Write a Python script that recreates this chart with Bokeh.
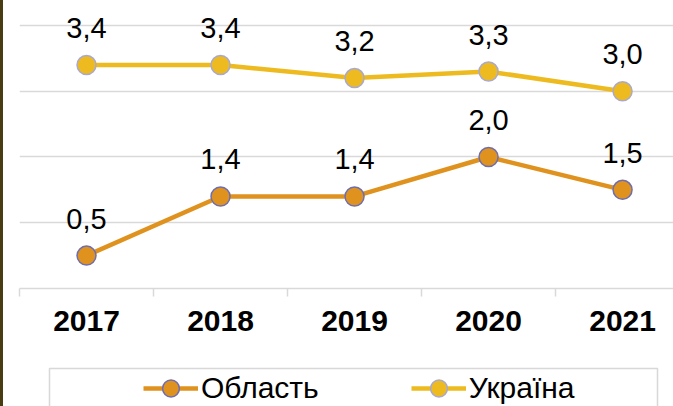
from bokeh.plotting import figure
from bokeh.models import FixedTicker, Legend, LegendItem, BoxAnnotation, Range1d, Div
from bokeh.layouts import row, column
from bokeh.embed import file_html
from bokeh.resources import INLINE
from bokeh.core.properties import value

years = ["2017", "2018", "2019", "2020", "2021"]
oblast = [0.5, 1.4, 1.4, 2.0, 1.5]
ukraina = [3.4, 3.4, 3.2, 3.3, 3.0]
grid_vals = [1, 2, 3, 4]
series_names = ["Область", "Україна"]

xs = list(range(len(years)))
dividers = [i - 0.5 for i in range(len(years) + 1)]


def fmt(v):
    return f"{v:.1f}".replace(".", ",")


FONT = "Liberation Sans"
OBL_COL = "#E0921F"
OBL_EDGE = "#6E6EAE"
UKR_COL = "#EDBB1F"
UKR_EDGE = "#A9A9CF"
LW = 4.5
MS = 19
BAR_W = 3
W = 673 - BAR_W

H1 = 345
p = figure(width=W, height=H1, output_backend="svg", toolbar_location=None,
           x_range=Range1d(-0.5, 4.38), y_range=Range1d(0, 4.38),
           y_axis_location=None,
           min_border_left=19 - BAR_W, min_border_right=0, min_border_top=0,
           min_border_bottom=H1 - 288)
p.outline_line_color = None
p.xgrid.visible = False
p.ygrid.ticker = FixedTicker(ticks=grid_vals)
p.ygrid.grid_line_color = "#d9d9d9"
p.ygrid.grid_line_width = 1.5

ax = p.xaxis[0]
ax.ticker = FixedTicker(ticks=xs, minor_ticks=dividers)
ax.major_label_overrides = {i: y for i, y in zip(xs, years)}
ax.axis_line_color = "#d9d9d9"
ax.axis_line_width = 1.5
ax.major_tick_in = 0
ax.major_tick_out = 0
ax.minor_tick_in = 0
ax.minor_tick_out = 8
ax.minor_tick_line_color = "#d9d9d9"
ax.minor_tick_line_width = 1.5
ax.major_label_standoff = 14
ax.major_label_text_font = FONT
ax.major_label_text_font_size = "30px"
ax.major_label_text_font_style = "bold"
ax.major_label_text_color = "black"

p.line(xs, oblast, line_color=OBL_COL, line_width=LW)
p.scatter(xs, oblast, size=MS, fill_color=OBL_COL, line_color=OBL_EDGE, line_width=1.5)
p.line(xs, ukraina, line_color=UKR_COL, line_width=LW)
p.scatter(xs, ukraina, size=MS, fill_color=UKR_COL, line_color=UKR_EDGE, line_width=1.5)

for vals in (oblast, ukraina):
    p.text(xs, vals, text=[fmt(v) for v in vals], text_align="center",
           text_baseline="alphabetic", y_offset=-37, text_font=value(FONT),
           text_font_size="29px", text_color="black")

# legend strip (its series sit outside its visible range; only the legend shows)
H2 = 406 - H1
p2 = figure(width=W, height=H2, output_backend="svg", toolbar_location=None,
            x_range=Range1d(100, 101), y_range=Range1d(100, 101),
            x_axis_location=None, y_axis_location=None,
            min_border_left=0, min_border_right=0, min_border_top=0, min_border_bottom=0)
p2.outline_line_color = None
p2.xgrid.visible = False
p2.ygrid.visible = False

r1 = [p2.line(xs, oblast, line_color=OBL_COL, line_width=LW),
      p2.scatter(xs, oblast, size=MS, fill_color=OBL_COL, line_color=OBL_EDGE, line_width=1.5)]
r2 = [p2.line(xs, ukraina, line_color=UKR_COL, line_width=LW),
      p2.scatter(xs, ukraina, size=MS, fill_color=UKR_COL, line_color=UKR_EDGE, line_width=1.5)]

legend = Legend(items=[LegendItem(label=series_names[0], renderers=r1),
                       LegendItem(label=series_names[1], renderers=r2)],
                orientation="horizontal", location=(124, -3),
                padding=0, spacing=92, glyph_width=55, glyph_height=42,
                label_standoff=3, label_text_font=FONT, label_text_font_size="30px",
                label_text_color="black", border_line_alpha=0,
                background_fill_alpha=0, margin=0)
p2.add_layout(legend, "center")

box = BoxAnnotation(left=49 - BAR_W, right=657 - BAR_W, top=368 - H1, bottom=H2 + 40,
                    left_units="canvas", right_units="canvas",
                    top_units="canvas", bottom_units="canvas",
                    fill_alpha=0, line_color="#7f7f7f", line_width=1.5)
p2.add_layout(box)

bar = Div(text="", width=BAR_W, height=406, margin=0,
          styles={"background-color": "#4a3c12"})

layout = row(bar, column(p, p2, spacing=0, margin=0), spacing=0, margin=0,
             styles={"position": "absolute", "left": "0px", "top": "0px"})

open("out.html", "w").write(file_html(layout, INLINE))
